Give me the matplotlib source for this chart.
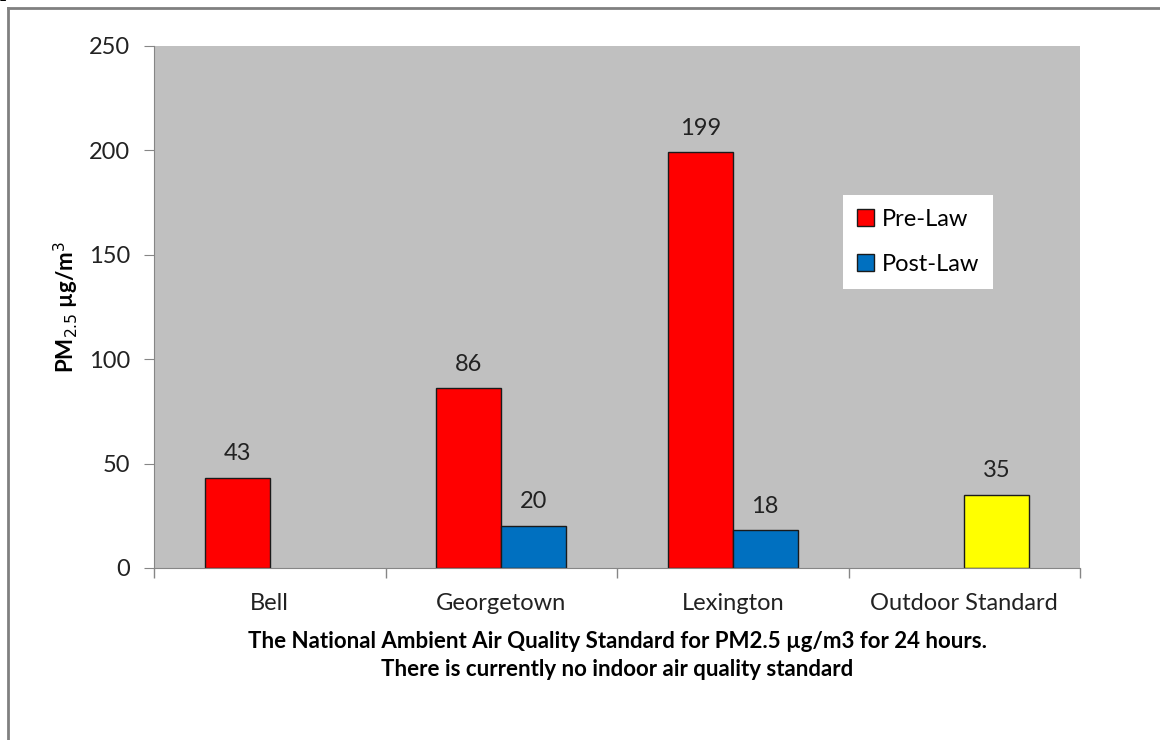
import numpy as np
import matplotlib.pyplot as plt
from matplotlib.lines import Line2D
from matplotlib.patches import Patch

plt.rcParams['font.family'] = ['Lato', 'DejaVu Sans']

sites = ['Bell', 'Georgetown', 'Lexington', 'Outdoor Standard']
pre_law = [43, 86, 199, np.nan]
post_law = [np.nan, 20, 18, 35]
post_colors = ['#0070C0', '#0070C0', '#0070C0', '#FFFF00']
yticks = [0, 50, 100, 150, 200, 250]

fig = plt.figure(figsize=(11.6, 7.4), dpi=100)
ax = fig.add_axes([154/1160, 1-568/740, (1080-154)/1160, (568-46)/740])
ax.set_facecolor('#C0C0C0')

x = np.arange(len(sites))
w = 0.28
bars_pre = ax.bar(x - w/2, pre_law, w, color='#FF0000', edgecolor='#1a1a1a', linewidth=1, label='Pre-Law')
bars_post = ax.bar(x + w/2, post_law, w, color=post_colors, edgecolor='#1a1a1a', linewidth=1, label='Post-Law')

# value labels above the bars
for bars, vals in [(bars_pre, pre_law), (bars_post, post_law)]:
    for b, v in zip(bars, vals):
        if not np.isnan(v):
            ax.annotate(str(v), (b.get_x() + b.get_width()/2, v), xytext=(0, 10), textcoords='offset points',
                        ha='center', va='bottom', fontsize=17, color='#222222')

ax.set_xlim(-0.5, 3.5)
ax.set_ylim(0, 250)
ax.set_yticks(yticks)
ax.set_xticks(x)
ax.set_xticklabels(sites, fontsize=17, color='#222222')
ax.set_xticks(np.arange(-0.5, 4, 1), minor=True)
ax.tick_params(axis='x', which='major', length=0, pad=18)
ax.tick_params(axis='x', which='minor', length=7, color='#868686', width=1)
ax.tick_params(axis='y', length=7, color='#868686', labelsize=17, labelcolor='#222222', pad=10)
for s in ['top', 'right']:
    ax.spines[s].set_visible(False)
for s in ['left', 'bottom']:
    ax.spines[s].set_color('#868686')

ax.set_ylabel('PM$_{2.5}$ µg/m$^3$', fontsize=16, fontweight='bold', labelpad=6)
ax.set_xlabel('The National Ambient Air Quality Standard for PM2.5 µg/m3 for 24 hours.\nThere is currently no indoor air quality standard',
              fontsize=16, fontweight='bold', labelpad=12, linespacing=1.45)

handles = [Patch(facecolor='#FF0000', edgecolor='#1a1a1a'), Patch(facecolor='#0070C0', edgecolor='#1a1a1a')]
leg = ax.legend(handles, ['Pre-Law', 'Post-Law'], loc='upper left', bbox_to_anchor=(0.744, 0.715),
                fontsize=17, frameon=True, fancybox=False, handlelength=0.7, handleheight=0.7,
                labelspacing=1.0, borderpad=0.6, handletextpad=0.35, borderaxespad=0, framealpha=1)
leg.get_frame().set_facecolor('white')
leg.get_frame().set_edgecolor('white')
leg.get_frame().set_linewidth(0)

# outer frame from the document page
fig.add_artist(Line2D([8/1160, 1], [1-8/740, 1-8/740], color='#808080', lw=2, transform=fig.transFigure))
fig.add_artist(Line2D([8/1160, 8/1160], [0, 1-8/740], color='#808080', lw=2, transform=fig.transFigure))
fig.text(0.0, 1.012, 'post-law', fontsize=16, fontweight='bold', family='Liberation Serif', va='center', ha='left')

fig.savefig('out.png', dpi=100)
